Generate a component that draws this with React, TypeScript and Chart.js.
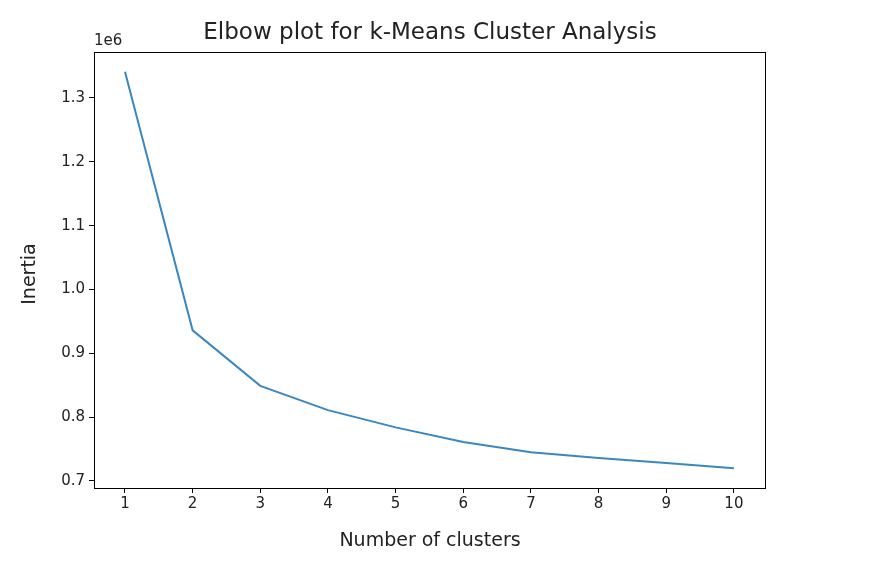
import React, { useEffect, useRef } from "react";
import { Chart, registerables } from "chart.js";
Chart.register(...registerables);

const clusters = [1, 2, 3, 4, 5, 6, 7, 8, 9, 10];
const inertia = [1.341, 0.936, 0.849, 0.811, 0.784, 0.761, 0.745, 0.736, 0.728, 0.72];
const yTicks = [0.7, 0.8, 0.9, 1.0, 1.1, 1.2, 1.3];
const FONT = "'DejaVu Sans', sans-serif";

export default function App() {
  const ref = useRef<HTMLCanvasElement>(null);
  useEffect(() => {
    const deco = {
      id: "deco",
      afterDraw(c: any) {
        const { ctx, chartArea: a } = c;
        ctx.save();
        ctx.strokeStyle = "#000";
        ctx.lineWidth = 1;
        ctx.strokeRect(a.left + 0.5, a.top + 0.5, a.right - a.left, a.bottom - a.top);
        ctx.fillStyle = "#222";
        ctx.textAlign = "center";
        ctx.textBaseline = "middle";
        ctx.font = `23px ${FONT}`;
        ctx.fillText("Elbow plot for k-Means Cluster Analysis", 430, 33);
        ctx.font = `19px ${FONT}`;
        ctx.fillText("Number of clusters", 430, 541);
        ctx.textAlign = "left";
        ctx.font = `15px ${FONT}`;
        ctx.fillText("1e6", a.left, 41);
        ctx.translate(30, 274);
        ctx.rotate(-Math.PI / 2);
        ctx.textAlign = "center";
        ctx.font = `19px ${FONT}`;
        ctx.fillText("Inertia", 0, 0);
        ctx.restore();
      },
    };
    const chart = new Chart(ref.current!, {
      type: "line",
      data: {
        datasets: [
          {
            data: clusters.map((x, i) => ({ x, y: inertia[i] })),
            borderColor: "#3a87c2",
            borderWidth: 2,
            pointRadius: 0,
            tension: 0,
          },
        ],
      },
      options: {
        animation: false,
        responsive: false,
        layout: { padding: { top: 52, right: 113, left: 0, bottom: 0 } },
        plugins: { legend: { display: false }, tooltip: { enabled: false } },
        scales: {
          x: {
            type: "linear",
            min: 0.542,
            max: 10.46,
            afterBuildTicks: (s: any) => { s.ticks = clusters.map((v) => ({ value: v })); },
            afterFit: (s: any) => { s.height = 81; },
            grid: { drawOnChartArea: false, tickLength: 5, color: "#000" },
            border: { display: false },
            ticks: { color: "#222", font: { family: FONT, size: 15 }, padding: 2, maxRotation: 0 },
          },
          y: {
            min: 0.689,
            max: 1.372,
            afterBuildTicks: (s: any) => { s.ticks = yTicks.map((v) => ({ value: v })); },
            afterFit: (s: any) => { s.width = 94; },
            grid: { drawOnChartArea: false, tickLength: 5, color: "#000" },
            border: { display: false },
            ticks: {
              color: "#222",
              font: { family: FONT, size: 15 },
              padding: 4,
              callback: (v: any) => Number(v).toFixed(1),
            },
          },
        },
      },
      plugins: [deco],
    });
    return () => chart.destroy();
  }, []);
  return (
    <div style={{ position: "fixed", left: 0, top: 0, background: "#fff" }}>
      <canvas ref={ref} width={878} height={569} />
    </div>
  );
}
